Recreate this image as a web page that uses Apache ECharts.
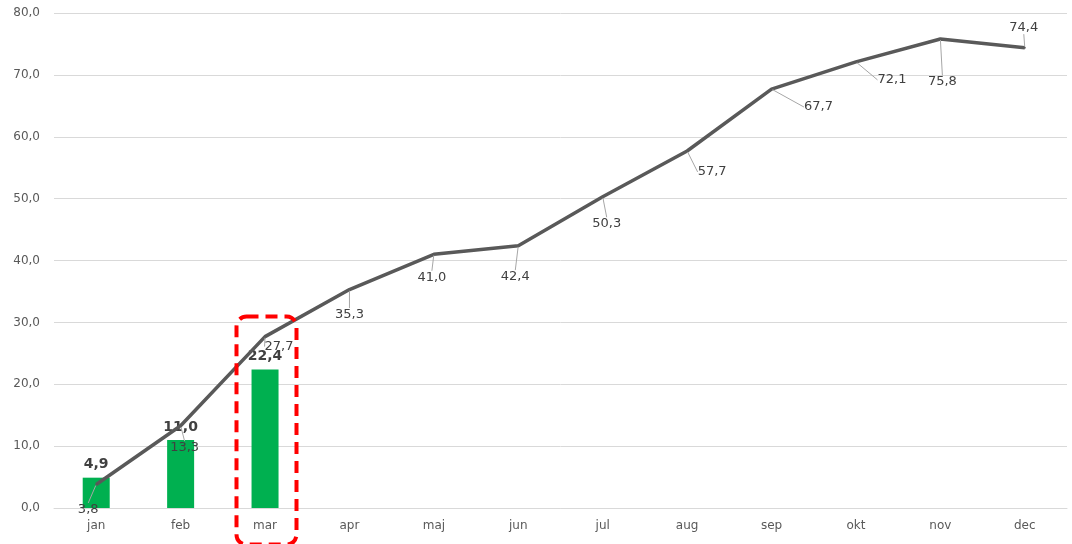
<!DOCTYPE html>
<html>
<head>
<meta charset="utf-8">
<script src="https://cdn.jsdelivr.net/npm/echarts@6/dist/echarts.min.js"></script>
<style>
  html, body { margin: 0; padding: 0; background: #fff; }
  #main { width: 1072px; height: 544px; }
</style>
</head>
<body>
<div id="main"></div>
<script>
// data
const months = ['jan', 'feb', 'mar', 'apr', 'maj', 'jun', 'jul', 'aug', 'sep', 'okt', 'nov', 'dec'];
const monthValues = [4.9, 11.0, 22.4];
const cumulative = [3.8, 13.3, 27.7, 35.3, 41.0, 42.4, 50.3, 57.7, 67.7, 72.1, 75.8, 74.4];

// where each line label sits relative to its point (px)
const labelShift = [
  [-8, 25], [4, 22], [14, 10], [0, 25], [-2, 23], [-3, 31],
  [4, 27], [25, 21], [47, 18], [36, 18], [2, 43], [-1, -20]
];

const fmt = v => v.toFixed(1).replace('.', ',');
const font = 'DejaVu Sans';

const myChart = echarts.init(document.getElementById('main'));
myChart.setOption({
  animation: false,
  grid: { left: 54, right: 5, top: 13, bottom: 36 },
  xAxis: {
    type: 'category',
    data: months,
    boundaryGap: true,
    axisTick: { show: false },
    axisLine: { lineStyle: { color: '#d9d9d9' } },
    axisLabel: { color: '#595959', fontSize: 12, fontFamily: font, margin: 12 }
  },
  yAxis: {
    type: 'value',
    min: 0,
    max: 80,
    interval: 10,
    axisLabel: {
      color: '#595959', fontSize: 12, fontFamily: font, margin: 14,
      formatter: v => fmt(v)
    },
    splitLine: { lineStyle: { color: '#d9d9d9' } }
  },
  series: [
    {
      type: 'bar',
      data: monthValues,
      barWidth: 27,
      z: 2,
      itemStyle: { color: '#00b050' },
      label: {
        show: true,
        position: 'top',
        distance: 6,
        color: '#404040',
        fontSize: 14,
        fontWeight: 'bold',
        fontFamily: font,
        formatter: p => fmt(p.value)
      }
    },
    {
      type: 'line',
      data: cumulative,
      z: 3,
      symbol: 'circle',
      symbolSize: 2,
      showSymbol: true,
      itemStyle: { color: '#595959' },
      lineStyle: { color: '#595959', width: 3.5 },
      label: {
        show: true,
        position: 'inside',
        color: '#404040',
        fontSize: 13,
        fontFamily: font,
        formatter: p => fmt(p.value)
      },
      labelLine: { show: true, lineStyle: { color: '#a6a6a6', width: 1 } },
      labelLayout: p => ({ dx: labelShift[p.dataIndex][0], dy: labelShift[p.dataIndex][1] })
    }
  ],
  graphic: [
    {
      type: 'rect',
      left: 234,
      top: 314,
      z: 10,
      shape: { width: 60, height: 228, r: 10 },
      style: { fill: 'none', stroke: '#ff0000', lineWidth: 4, lineDash: [12, 7] }
    }
  ]
});
</script>
</body>
</html>
